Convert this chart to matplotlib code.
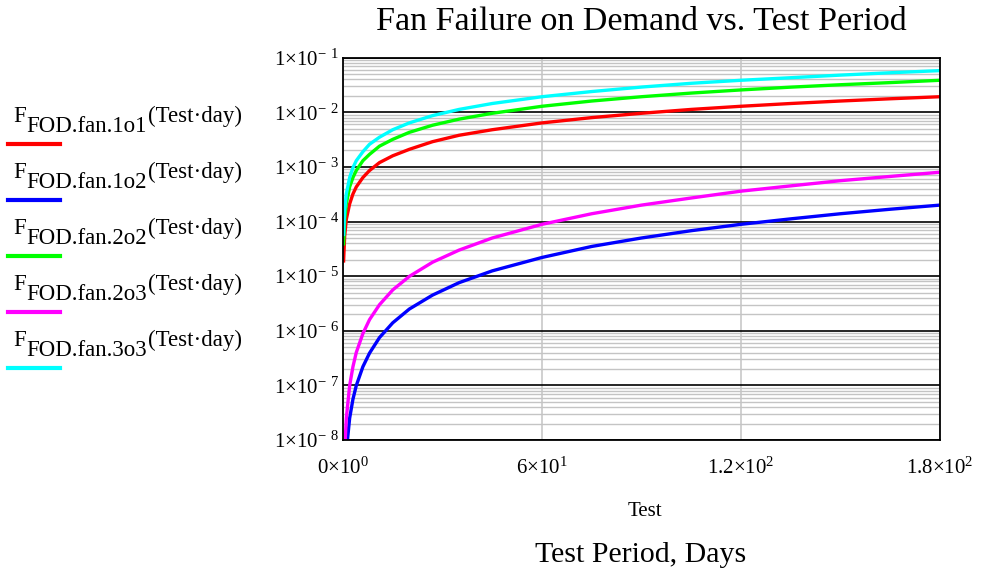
import matplotlib
matplotlib.use("Agg")
import matplotlib.pyplot as plt
from matplotlib.lines import Line2D
from matplotlib.ticker import FixedLocator, LogLocator, NullFormatter

plt.rcParams["font.family"] = ["Liberation Serif", "DejaVu Serif"]
plt.rcParams["mathtext.default"] = "regular"

# test period, days
test = [0.18, 0.5, 1, 2, 3, 4, 6, 8, 11, 15, 20, 27, 35, 45, 60, 75, 90,
        105, 120, 135, 150, 165, 180]

# failure on demand
f_1o1 = [1.9e-5, 5.4e-5, 1.1e-4, 2.1e-4, 3.2e-4, 4.3e-4, 6.4e-4, 8.6e-4,
         1.2e-3, 1.6e-3, 2.1e-3, 2.9e-3, 3.8e-3, 4.8e-3, 6.4e-3, 8.0e-3,
         9.6e-3, 1.13e-2, 1.29e-2, 1.45e-2, 1.61e-2, 1.77e-2, 1.93e-2]
f_1o2 = [2.0e-10, 1.5e-9, 6.2e-9, 2.5e-8, 5.6e-8, 9.9e-8, 2.2e-7, 3.9e-7,
         7.5e-7, 1.4e-6, 2.5e-6, 4.5e-6, 7.6e-6, 1.25e-5, 2.2e-5, 3.5e-5,
         5.0e-5, 6.8e-5, 8.9e-5, 1.12e-4, 1.39e-4, 1.68e-4, 2.0e-4]
f_2o2 = [3.9e-5, 1.1e-4, 2.1e-4, 4.3e-4, 6.4e-4, 8.6e-4, 1.3e-3, 1.7e-3,
         2.4e-3, 3.2e-3, 4.3e-3, 5.8e-3, 7.5e-3, 9.6e-3, 1.29e-2, 1.61e-2,
         1.93e-2, 2.25e-2, 2.57e-2, 2.89e-2, 3.2e-2, 3.5e-2, 3.86e-2]
f_2o3 = [8.0e-10, 6.2e-9, 2.5e-8, 9.9e-8, 2.2e-7, 4.0e-7, 8.9e-7, 1.6e-6,
         3.0e-6, 5.6e-6, 9.9e-6, 1.8e-5, 3.0e-5, 5.0e-5, 8.9e-5, 1.39e-4,
         2.0e-4, 2.7e-4, 3.6e-4, 4.5e-4, 5.6e-4, 6.7e-4, 8.0e-4]
f_3o3 = [5.8e-5, 1.6e-4, 3.2e-4, 6.4e-4, 9.7e-4, 1.3e-3, 1.9e-3, 2.6e-3,
         3.5e-3, 4.8e-3, 6.4e-3, 8.7e-3, 1.13e-2, 1.45e-2, 1.93e-2, 2.4e-2,
         2.9e-2, 3.4e-2, 3.86e-2, 4.3e-2, 4.8e-2, 5.3e-2, 5.8e-2]

names = ["1o1", "1o2", "2o2", "2o3", "3o3"]
colors = ["#ff0000", "#0000ff", "#00ff00", "#ff00ff", "#00ffff"]

ytick_vals = [1e-8, 1e-7, 1e-6, 1e-5, 1e-4, 1e-3, 1e-2, 1e-1]
ytick_labels = [r"1×10$^{-\ %d}$" % k for k in range(8, 0, -1)]
xtick_vals = [0, 60, 120, 180]
xtick_labels = [r"0×10$^{0}$", r"6×10$^{1}$", r"1.2×10$^{2}$", r"1.8×10$^{2}$"]

W, H = 982, 573
fig = plt.figure(figsize=(W / 100, H / 100), dpi=100)
ax = fig.add_axes([343 / W, 133 / H, 597 / W, 382.3 / H])

for vals, c in zip([f_1o1, f_1o2, f_2o2, f_2o3, f_3o3], colors):
    ax.plot(test, vals, color=c, lw=2.4)

ax.set_yscale("log")
ax.set_ylim(1e-8, 1e-1)
ax.set_xlim(0, 180)
ax.yaxis.set_major_locator(FixedLocator(ytick_vals))
ax.set_yticklabels(ytick_labels)
ax.yaxis.set_minor_locator(LogLocator(base=10, subs=range(2, 10), numticks=20))
ax.yaxis.set_minor_formatter(NullFormatter())
ax.set_xticks(xtick_vals, xtick_labels)

ax.grid(which="minor", axis="y", color="#c4c4c4", lw=1)
ax.grid(which="major", axis="y", color="black", lw=1.2)
ax.grid(which="major", axis="x", color="#c8c8c8", lw=1.2)
ax.tick_params(which="both", length=0, labelsize=15)
ax.tick_params(axis="x", pad=13)
ax.tick_params(axis="y", pad=3)
for s in ax.spines.values():
    s.set_linewidth(1.3)

fig.text(641 / W, 1 - 22 / H, "Fan Failure on Demand vs. Test Period",
         fontsize=24.5, ha="center", va="center")
fig.text(645 / W, 1 - 511 / H, "Test", fontsize=15, ha="center", va="center")
fig.text(641 / W, 1 - 555 / H, "Test Period, Days", fontsize=21.5,
         ha="center", va="center")

# legend on the left: text on top, line sample below
for i, (name, c) in enumerate(zip(names, colors)):
    yb = 122 + i * 56
    t1 = fig.text(13 / W, 1 - yb / H, "F", fontsize=16.5, va="baseline")
    t2 = ax.annotate("FOD.fan." + name, xy=(1, 0), xycoords=t1,
                     xytext=(0.5, -7), textcoords="offset points",
                     fontsize=16.5, va="bottom")
    ax.annotate("(Test·day)", xy=(1, 0), xycoords=(t2, t1),
                xytext=(0.5, 0), textcoords="offset points",
                fontsize=16.5, va="bottom")
    fig.add_artist(Line2D([8 / W, 60 / W], [1 - (yb + 22) / H] * 2,
                          color=c, lw=3))

fig.savefig("out.png", dpi=100)
